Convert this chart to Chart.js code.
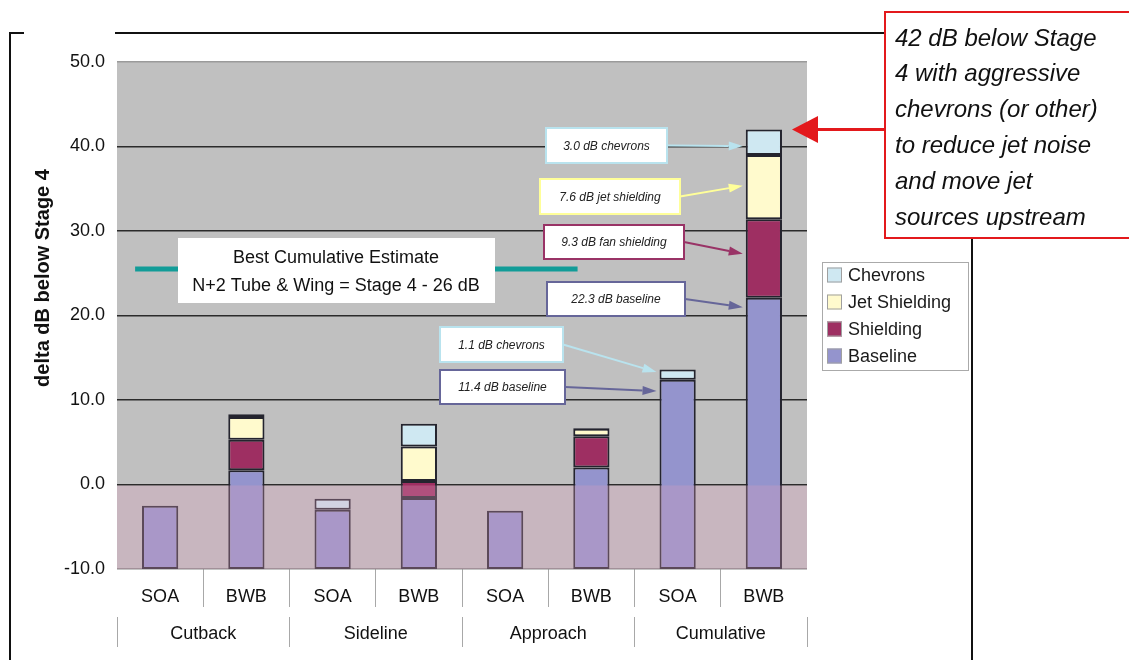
<!DOCTYPE html>
<html>
<head>
<meta charset="utf-8">
<title>delta dB below Stage 4</title>
<script src="https://cdn.jsdelivr.net/npm/chart.js@4.4.1/dist/chart.umd.min.js"></script>
<style>
  html, body { margin: 0; padding: 0; background: #ffffff; }
  #wrap { position: relative; width: 1129px; height: 660px; }
</style>
</head>
<body>
<div id="wrap"><canvas id="noiseChart"></canvas></div>
<script>
const categories = ["SOA", "BWB", "SOA", "BWB", "SOA", "BWB", "SOA", "BWB"];
const groups = ["Cutback", "Sideline", "Approach", "Cumulative"];
// top of the baseline bar; bars rise from the axis minimum (-10)
const baseline = [-2.5, 1.7, -3.0, -1.6, -3.1, 2.0, 12.4, 22.1];
// increments stacked on top of the baseline
const shielding = [0, 3.6, 0, 2.0, 0, 3.7, 0, 9.3];
const jetShielding = [0, 2.7, 0, 4.1, 0, 0.9, 0, 7.6];
const chevrons = [0, 0.3, 1.3, 2.7, 0, 0.1, 1.2, 3.0];
const yTicks = [-10, 0, 10, 20, 30, 40, 50];
const bestEstimate = 25.5;

const seriesNames = ["Baseline", "Shielding", "Jet Shielding", "Chevrons"];
const seriesColors = ["#9494cd", "#9e2f62", "#fffacd", "#cfe8f2"];
const calloutColors = ["#666699", "#993366", "#ffff99", "#b9e3ee"];

const fontFamily = "\"Liberation Sans\", Arial, sans-serif";
Chart.defaults.font.family = fontFamily;
Chart.defaults.color = "#111111";

// floating [start, end] ranges built from the arrays above
const axisMin = yTicks[0];
const ranges = [[], [], [], []];
categories.forEach((_, i) => {
  let top = baseline[i];
  ranges[0].push([axisMin, top]);
  [shielding, jetShielding, chevrons].forEach((part, k) => {
    const v = part[i];
    ranges[k + 1].push(v ? [top, top + v] : null);
    top += v;
  });
});

const callouts = [
  { series: 3, index: 7, text: "3.0 dB chevrons", box: [546, 128, 121, 35], at: 0.65 },
  { series: 2, index: 7, text: "7.6 dB jet shielding", box: [540, 179, 140, 35], at: 0.48 },
  { series: 1, index: 7, text: "9.3 dB fan shielding", box: [544, 225, 140, 34], at: 0.44 },
  { series: 0, index: 7, text: "22.3 dB baseline", box: [547, 282, 138, 34], at: 0.035 },
  { series: 3, index: 6, text: "1.1 dB chevrons", box: [440, 327, 123, 35], at: 0.25 },
  { series: 0, index: 6, text: "11.4 dB baseline", box: [440, 370, 125, 34], at: 0.06 }
];

const noteLines = [
  "42 dB below Stage",
  "4 with aggressive",
  "chevrons (or other)",
  "to reduce jet noise",
  "and move jet",
  "sources upstream"
];

function drawArrow(ctx, x1, y1, x2, y2, color, width, headLength, headWidth) {
  const angle = Math.atan2(y2 - y1, x2 - x1);
  const bx = x2 - headLength * Math.cos(angle);
  const by = y2 - headLength * Math.sin(angle);
  const hx = (headWidth / 2) * Math.sin(angle);
  const hy = (headWidth / 2) * Math.cos(angle);
  ctx.strokeStyle = color;
  ctx.lineWidth = width;
  ctx.beginPath();
  ctx.moveTo(x1, y1);
  ctx.lineTo(bx, by);
  ctx.stroke();
  ctx.fillStyle = color;
  ctx.beginPath();
  ctx.moveTo(x2, y2);
  ctx.lineTo(bx + hx, by - hy);
  ctx.lineTo(bx - hx, by + hy);
  ctx.closePath();
  ctx.fill();
}

const decorations = {
  id: "decorations",
  beforeDraw(chart) {
    const { ctx, chartArea: a } = chart;
    ctx.save();
    ctx.fillStyle = "#ffffff";
    ctx.fillRect(0, 0, chart.width, chart.height);
    ctx.fillStyle = "#c0c0c0";
    ctx.fillRect(a.left, a.top, a.right - a.left, a.bottom - a.top);
    ctx.restore();
  },
  afterDatasetsDraw(chart) {
    const { ctx, chartArea: a, scales } = chart;
    const zero = scales.y.getPixelForValue(0);
    ctx.save();
    // pink band below zero, laid over the bars
    ctx.fillStyle = "rgba(220, 160, 190, 0.3)";
    ctx.fillRect(a.left, zero + 1, a.right - a.left, a.bottom - zero - 1);

    // best cumulative estimate line
    const catW = scales.x.width / categories.length;
    const x0 = scales.x.getPixelForValue(0);
    const ey = scales.y.getPixelForValue(bestEstimate);
    ctx.strokeStyle = "#129c98";
    ctx.lineWidth = 5;
    ctx.beginPath();
    ctx.moveTo(x0 - 0.29 * catW, ey);
    ctx.lineTo(x0 + 4.84 * catW, ey);
    ctx.stroke();
    ctx.restore();
  },
  afterDraw(chart) {
    const { ctx } = chart;
    ctx.save();

    // slide frame
    ctx.strokeStyle = "#111111";
    ctx.lineWidth = 2;
    ctx.beginPath();
    ctx.moveTo(24, 33); ctx.lineTo(10, 33); ctx.lineTo(10, 660);
    ctx.moveTo(115, 33); ctx.lineTo(890, 33);
    ctx.moveTo(972, 236); ctx.lineTo(972, 660);
    ctx.stroke();

    // y axis title
    ctx.save();
    ctx.translate(43, 278);
    ctx.rotate(-Math.PI / 2);
    ctx.font = "bold 20px " + fontFamily;
    ctx.fillStyle = "#111111";
    ctx.textAlign = "center";
    ctx.textBaseline = "middle";
    ctx.fillText("delta dB below Stage 4", 0, 0);
    ctx.restore();

    // estimate label
    ctx.fillStyle = "#ffffff";
    ctx.fillRect(178, 238, 317, 65);
    ctx.fillStyle = "#111111";
    ctx.font = "18px " + fontFamily;
    ctx.textAlign = "center";
    ctx.textBaseline = "middle";
    ctx.fillText("Best Cumulative Estimate", 336, 258);
    ctx.fillText("N+2 Tube & Wing = Stage 4 - 26 dB", 336, 286);

    // segment callouts
    ctx.font = "italic 12px " + fontFamily;
    callouts.forEach((c) => {
      const el = chart.getDatasetMeta(c.series).data[c.index];
      const [bx, by, bw, bh] = c.box;
      const color = calloutColors[c.series];
      const top = Math.min(el.y, el.base);
      const bottom = Math.max(el.y, el.base);
      const tipX = el.x - el.width / 2 - 3;
      const tipY = top + c.at * (bottom - top);
      drawArrow(ctx, bx + bw, by + bh / 2, tipX, tipY, color, 2, 14, 9);
      ctx.fillStyle = "#ffffff";
      ctx.fillRect(bx, by, bw, bh);
      ctx.strokeStyle = color;
      ctx.lineWidth = 2;
      ctx.strokeRect(bx, by, bw, bh);
      ctx.fillStyle = "#222222";
      ctx.textAlign = "center";
      ctx.fillText(c.text, bx + bw / 2, by + bh / 2 + 1);
    });

    // legend
    ctx.fillStyle = "#ffffff";
    ctx.fillRect(822, 262, 146, 108);
    ctx.strokeStyle = "#aaaaaa";
    ctx.lineWidth = 1;
    ctx.strokeRect(822.5, 262.5, 146, 108);
    ctx.font = "18px " + fontFamily;
    ctx.textAlign = "left";
    chart.data.datasets.slice().reverse().forEach((ds, i) => {
      const cy = 275 + i * 27;
      ctx.fillStyle = ds.backgroundColor;
      ctx.fillRect(827, cy - 7.5, 15, 15);
      ctx.strokeStyle = "#a0a0a0";
      ctx.strokeRect(827.5, cy - 7, 14, 14);
      ctx.fillStyle = "#1a1a1a";
      ctx.fillText(ds.label, 848, cy + 1);
    });

    // red note and arrow
    const last = chart.getDatasetMeta(3).data[categories.length - 1];
    const tipX = last.x + last.width / 2 + 10;
    const tipY = last.y;
    drawArrow(ctx, 886, tipY, tipX, tipY, "#e3191c", 3, 26, 27);
    ctx.fillStyle = "#ffffff";
    ctx.fillRect(885, 12, 260, 226);
    ctx.strokeStyle = "#e3191c";
    ctx.lineWidth = 2;
    ctx.strokeRect(885, 12, 260, 226);
    ctx.fillStyle = "#111111";
    ctx.font = "italic 24px " + fontFamily;
    noteLines.forEach((line, i) => {
      ctx.fillText(line, 895, 39 + i * 35.8);
    });

    ctx.restore();
  }
};

new Chart(document.getElementById("noiseChart"), {
  type: "bar",
  data: {
    labels: categories,
    datasets: ranges.map((data, k) => ({
      label: seriesNames[k],
      data: data,
      backgroundColor: seriesColors[k]
    }))
  },
  options: {
    responsive: true,
    maintainAspectRatio: false,
    animation: false,
    layout: { padding: { left: 0, top: 62, right: 322, bottom: 10 } },
    datasets: {
      bar: {
        categoryPercentage: 1,
        barPercentage: 0.42,
        borderWidth: 2,
        borderColor: "#24242e",
        borderSkipped: false
      }
    },
    plugins: {
      legend: { display: false },
      tooltip: { enabled: true }
    },
    scales: {
      x: {
        stacked: true,
        offset: true,
        border: { display: false },
        grid: {
          offset: true,
          drawOnChartArea: false,
          tickLength: 38,
          lineWidth: 1,
          color: (c) => (c.type === "tick" && c.index > 0 ? "#a8a8a8" : "rgba(0,0,0,0)")
        },
        ticks: { padding: -21, maxRotation: 0, autoSkip: false, font: { size: 18 }, color: "#111111" },
        afterFit(scale) { scale.height = 48; }
      },
      x2: {
        type: "category",
        labels: groups,
        position: "bottom",
        weight: 1,
        offset: true,
        border: { display: false },
        grid: { offset: true, drawOnChartArea: false, tickLength: 30, lineWidth: 1, color: "#a8a8a8" },
        ticks: { padding: -24, maxRotation: 0, autoSkip: false, font: { size: 18 }, color: "#111111" },
        afterFit(scale) { scale.height = 33; }
      },
      y: {
        stacked: false,
        min: yTicks[0],
        max: yTicks[yTicks.length - 1],
        border: { display: false },
        grid: {
          drawTicks: false,
          lineWidth: 1.6,
          color: (c) => {
            const v = c.tick ? c.tick.value : null;
            if (v === yTicks[yTicks.length - 1]) return "#9a9a9a";
            if (v === yTicks[0]) return "#8a8a8a";
            return "#2b2b2b";
          }
        },
        ticks: {
          stepSize: 10,
          padding: 12,
          font: { size: 18 },
          color: "#111111",
          callback(value) {
            return Number(value).toFixed(1);
          }
        },
        afterFit(scale) { scale.width = 117; }
      }
    }
  },
  plugins: [decorations]
});
</script>
</body>
</html>
